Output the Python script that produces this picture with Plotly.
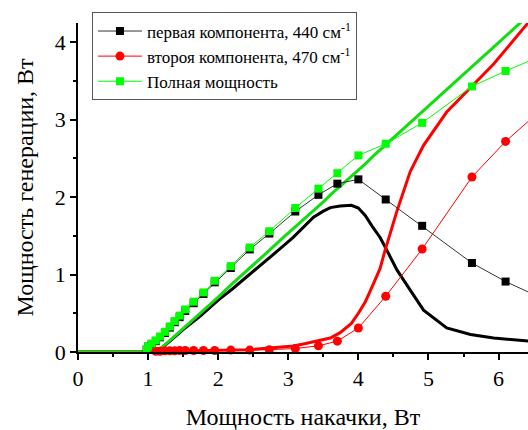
import plotly.graph_objects as go

# measured points
pump = [0.98, 1.0, 1.05, 1.11, 1.17, 1.24, 1.31, 1.38, 1.45, 1.53, 1.65, 1.79, 1.95,
        2.18, 2.45, 2.73, 3.1, 3.43, 3.7, 4.0, 4.39, 4.91, 5.62, 6.1, 6.7]
first_440 = [0.03, 0.07, 0.10, 0.14, 0.19, 0.245, 0.315, 0.385, 0.45, 0.53, 0.63, 0.75, 0.90,
             1.085, 1.325, 1.53, 1.815, 2.03, 2.175, 2.23, 1.97, 1.63, 1.15, 0.91, 0.66]
second_470 = [None, None, None, 0.01, 0.01, 0.015, 0.015, 0.015, 0.02, 0.02, 0.02, 0.02, 0.02,
              0.025, 0.025, 0.03, 0.045, 0.08, 0.14, 0.31, 0.72, 1.33, 2.26, 2.72, 3.2]
total = [0.03, 0.07, 0.11, 0.15, 0.20, 0.26, 0.33, 0.40, 0.47, 0.55, 0.65, 0.77, 0.92,
         1.11, 1.35, 1.56, 1.86, 2.11, 2.31, 2.54, 2.69, 2.96, 3.43, 3.63, 3.86]

# calculated curves
calc_x = [0, 1.0, 1.12, 1.3, 1.5, 1.74, 2.0, 2.21, 2.45, 2.69, 2.93, 3.07, 3.2, 3.36, 3.5,
          3.6, 3.74, 3.9, 4.0, 4.1, 4.2, 4.31, 4.38, 4.45, 4.55, 4.74, 4.93, 5.26, 5.6, 5.93, 6.42, 6.6]
calc_first = [0, 0, 0, 0.13, 0.29, 0.46, 0.67, 0.82, 1.0, 1.18, 1.37, 1.48, 1.60, 1.74, 1.82,
              1.865, 1.886, 1.895, 1.86, 1.76, 1.62, 1.48, 1.36, 1.24, 1.06, 0.80, 0.54, 0.31, 0.226, 0.18, 0.14, 0.13]
calc_second = [0, 0, 0, 0.01, 0.012, 0.015, 0.017, 0.02, 0.03, 0.047, 0.065, 0.077, 0.10, 0.13, 0.16,
               0.18, 0.25, 0.37, 0.50, 0.65, 0.85, 1.08, 1.31, 1.52, 1.82, 2.33, 2.67, 3.10, 3.42, 3.72, 4.25, 4.42]
calc_total = [0, 0, 0, 0.14, 0.30, 0.50, 0.71, 0.89, 1.08, 1.28, 1.48, 1.59, 1.70, 1.83, 1.94,
              2.03, 2.14, 2.27, 2.35, 2.43, 2.52, 2.61, 2.67, 2.72, 2.80, 2.96, 3.12, 3.39, 3.67, 3.94, 4.34, 4.49]

names = ["первая компонента, 440 см<sup>-1</sup>",
         "второя компонента, 470 см<sup>-1</sup>",
         "Полная мощность"]

FONT = "Liberation Serif"
fig = go.Figure()

fig.add_trace(go.Scatter(x=calc_x, y=calc_first, mode="lines", line=dict(color="black", width=3),
                         showlegend=False, hoverinfo="skip"))
fig.add_trace(go.Scatter(x=calc_x, y=calc_second, mode="lines", line=dict(color="#ff0000", width=3),
                         showlegend=False, hoverinfo="skip"))
fig.add_trace(go.Scatter(x=calc_x, y=calc_total, mode="lines", line=dict(color="#11dd11", width=3),
                         showlegend=False, hoverinfo="skip"))

fig.add_trace(go.Scatter(x=pump, y=first_440, mode="lines+markers", name=names[0],
                         line=dict(color="#333333", width=1),
                         marker=dict(symbol="square", size=8, color="black"), cliponaxis=False))
fig.add_trace(go.Scatter(x=pump, y=second_470, mode="lines+markers", name=names[1],
                         line=dict(color="#ff0000", width=1), connectgaps=False,
                         marker=dict(symbol="circle", size=9, color="#ff0000"), cliponaxis=False))
fig.add_trace(go.Scatter(x=pump, y=total, mode="lines+markers", name=names[2],
                         line=dict(color="#00ff00", width=1),
                         marker=dict(symbol="square", size=8, color="#00ff00"), cliponaxis=False))

fig.update_layout(
    width=528, height=430,
    margin=dict(l=78, r=0, t=23, b=74),
    paper_bgcolor="white", plot_bgcolor="white",
    font=dict(family=FONT, color="black"),
    legend=dict(x=0.031, y=1.032, xanchor="left", yanchor="top", itemwidth=44,
                bgcolor="white", bordercolor="#555555", borderwidth=1,
                font=dict(family=FONT, size=17, color="black")),
    xaxis=dict(range=[0, 6.42], showgrid=False, zeroline=False,
               showline=True, linecolor="black", linewidth=1.5,
               ticks="outside", ticklen=6, tickwidth=1.5, tickcolor="black", dtick=1,
               tickfont=dict(family=FONT, size=22, color="black"),
               minor=dict(ticks="outside", ticklen=3, dtick=0.5, tickcolor="black", tickwidth=1.5),
               title=dict(text="Мощность накачки, Вт", font=dict(family=FONT, size=24, color="black"), standoff=22)),
    yaxis=dict(range=[0, 4.25], showgrid=False, zeroline=False,
               showline=True, linecolor="black", linewidth=1.5,
               ticks="outside", ticklen=6, tickwidth=1.5, tickcolor="black", dtick=1,
               tickfont=dict(family=FONT, size=22, color="black"),
               minor=dict(ticks="outside", ticklen=3, dtick=0.5, tickcolor="black", tickwidth=1.5),
               title=dict(text="Мощность генерации, Вт", font=dict(family=FONT, size=24, color="black"), standoff=14)),
)

fig.write_html("out.html")
